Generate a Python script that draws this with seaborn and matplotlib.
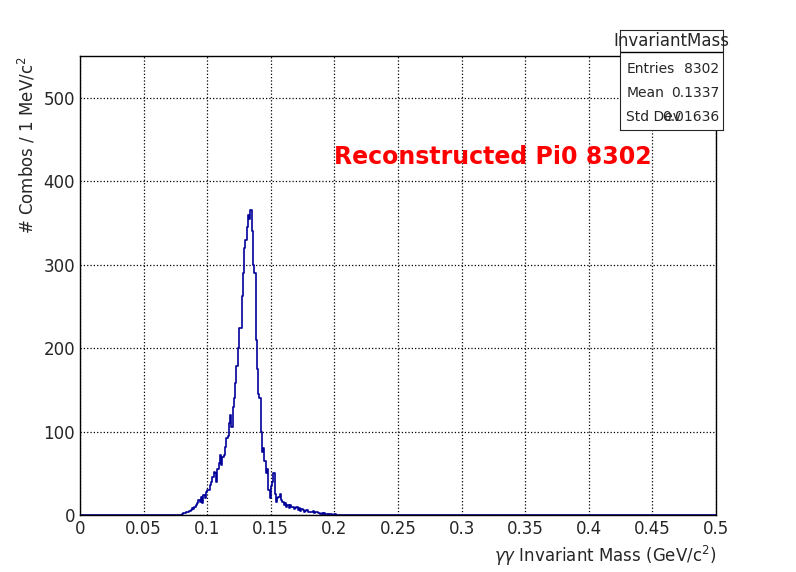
import numpy as np
import pandas as pd
import matplotlib
matplotlib.use("Agg")
import matplotlib.pyplot as plt
import seaborn as sns

# counts per 1 MeV bin, starting at 0.080 GeV
start_mev = 80
counts = [1, 2, 2, 3, 4, 3,
          5, 6, 8, 7, 10,
          12, 14, 18, 16, 22,
          14, 24, 20, 28, 30,
          30, 36, 40, 46, 52,
          50, 40, 55, 62, 72,
          60, 70, 72, 82, 92,
          95, 110, 120, 105, 130,
          140, 158, 178, 200, 224,
          224, 262, 290, 320, 330,
          345, 360, 355, 366, 340,
          300, 290, 210, 175, 145, 140, 100, 75, 80, 65,
          50, 55, 30, 20, 35, 40, 50, 25, 15, 20,
          22, 25, 18, 15, 12,
          14, 10, 12, 8, 12, 9, 10, 7, 8, 9,
          6, 8, 5, 7, 6, 4, 5, 6, 3, 4,
          4, 3, 5, 2, 3, 3, 2, 2, 1, 2,
          1, 2, 1, 1, 0, 1, 1, 0, 0, 1]
mass = (start_mev + np.arange(len(counts)) + 0.5) / 1000.0
df = pd.DataFrame({"mass": mass, "count": counts})

sns.set_style("white")
fig = plt.figure(figsize=(7.96, 5.72), dpi=100)
ax = fig.add_axes([80 / 796, 1 - 515 / 572, 636 / 796, 459 / 572])
sns.histplot(data=df, x="mass", weights="count", binwidth=0.001, binrange=(0, 0.5),
             element="step", fill=False, color="#000099", linewidth=1.2, ax=ax)

ax.set_xlim(0, 0.5)
ax.set_ylim(0, 550)
ax.set_xticks(np.arange(0, 0.51, 0.05))
ax.set_xticklabels(["0", "0.05", "0.1", "0.15", "0.2", "0.25", "0.3", "0.35", "0.4", "0.45", "0.5"])
ax.set_xticks(np.arange(0, 0.501, 0.01), minor=True)
ax.set_yticks(np.arange(0, 501, 100))
ax.set_yticks(np.arange(0, 551, 20), minor=True)
ax.tick_params(direction="in", length=10, labelsize=12, top=False, right=False)
ax.tick_params(which="minor", direction="in", length=5)
ax.grid(True, linestyle=":", color="black", linewidth=0.9)
for s in ax.spines.values():
    s.set_color("black")
    s.set_linewidth(1)
ax.set_xlabel(r"$\gamma\gamma$ Invariant Mass (GeV/c$^{2}$)", fontsize=12, loc="right")
ax.set_ylabel(r"# Combos / 1 MeV/c$^{2}$", fontsize=12, loc="top")

ax.text(0.2, 420, "Reconstructed Pi0 8302", color="red", fontsize=17, fontweight="bold")

# stats box
bx = fig.add_axes([620 / 796, 1 - 130 / 572, 103 / 796, 100 / 572])
bx.set_xticks([]); bx.set_yticks([])
bx.set_xlim(0, 1); bx.set_ylim(0, 1)
bx.axhline(0.78, color="black", linewidth=1)
bx.text(0.5, 0.89, "InvariantMass", ha="center", va="center", fontsize=12)
rows = [("Entries", "8302"), ("Mean", "0.1337"), ("Std Dev", "0.01636")]
for i, (k, v) in enumerate(rows):
    y = 0.61 - i * 0.24
    bx.text(0.06, y, k, va="center", fontsize=10)
    bx.text(0.96, y, v, va="center", ha="right", fontsize=10)

fig.savefig("out.png", dpi=100)
